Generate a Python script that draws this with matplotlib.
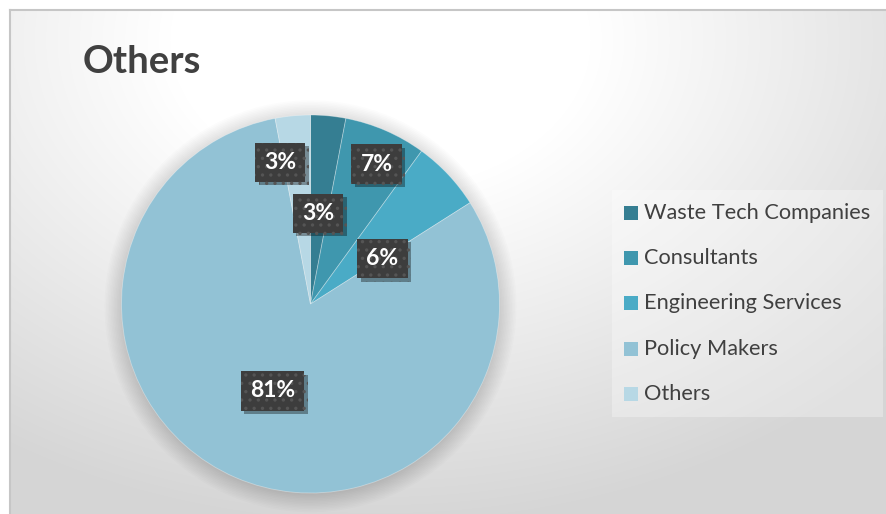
import numpy as np
import matplotlib
matplotlib.use("Agg")
import matplotlib.pyplot as plt
import matplotlib.patheffects as pe
from matplotlib.patches import Rectangle, Circle

# ---------- data ----------
labels = ["Waste Tech Companies", "Consultants", "Engineering Services",
          "Policy Makers", "Others"]
shares = [3, 7, 6, 81, 3]
title = "Others"

# ---------- style ----------
colors = ["#357e92", "#3f97ae", "#4aabc6", "#92c2d5", "#b7d8e5"]
text_dark = "#404040"
# label anchor points, in pie radius units from the centre
label_xy = [(0.04, 0.48), (0.35, 0.74), (0.38, 0.24), (-0.20, -0.46), (-0.16, 0.75)]

W, H, DPI = 886, 514, 100
fig = plt.figure(figsize=(W / DPI, H / DPI), dpi=DPI)

# background layer in pixel coordinates
bg = fig.add_axes([0, 0, 1, 1])
bg.set_xlim(0, W)
bg.set_ylim(H, 0)
bg.axis("off")

yy, xx = np.mgrid[0:H, 0:W]
d = np.sqrt(((xx - 380) / 700.0) ** 2 + ((yy - 40) / 500.0) ** 2)
shade = np.clip(255 - 62 * np.clip(d - 0.3, 0, None), 213, 255) / 255.0
img = np.dstack([shade, shade, shade])
img[:10, :, :] = 1.0
img[:, :10, :] = 1.0
bg.imshow(img, extent=(0, W, H, 0), interpolation="bilinear", zorder=0)
bg.plot([10, W], [10, 10], color="#c6c6c6", lw=1.5, zorder=1)
bg.plot([10, 10], [10, H], color="#c6c6c6", lw=1.5, zorder=1)

bg.text(83, 62, title, fontsize=27.5, fontweight="bold", color=text_dark,
        family="Lato", va="center", ha="left")

# legend block
bg.add_patch(Rectangle((612, 190), 271, 227, facecolor="white", alpha=0.3,
                       edgecolor="none", zorder=1))
for i, (lab, col) in enumerate(zip(labels, colors)):
    y = 213 + i * 45.2
    bg.add_patch(Rectangle((624, y - 7), 14, 14, facecolor=col,
                           edgecolor="none", zorder=2))
    bg.text(644, y, lab, fontsize=15.7, color=text_dark, family="Lato",
            va="center", ha="left", zorder=2)

# pie
cx, cy, R = 310.5, 304, 189
k = 1.2
ax = fig.add_axes([(cx - R * k) / W, (H - cy - R * k) / H,
                   2 * R * k / W, 2 * R * k / H])

# soft outer shadow
for r in np.linspace(1.09, 1.0, 12):
    ax.add_patch(Circle((0, -0.012), r, facecolor="black", alpha=0.012,
                        edgecolor="none", zorder=0))

wedges, _ = ax.pie(shares, colors=colors, startangle=90, counterclock=False,
                   radius=1.0, wedgeprops=dict(edgecolor=(1, 1, 1, 0.35),
                                               linewidth=0.6))
for w in wedges:
    w.set_zorder(1)
ax.set_xlim(-k, k)
ax.set_ylim(-k, k)
ax.axis("off")

plt.rcParams["hatch.linewidth"] = 1.2
for v, (x, y) in zip(shares, label_xy):
    t = ax.text(x, y, f"{v}%", fontsize=16.5, fontweight="bold", color="white",
                family="Lato", ha="center", va="center", zorder=5,
                bbox=dict(boxstyle="square,pad=0.4", facecolor="#3d3d3d",
                          edgecolor="#555555", linewidth=0, hatch=".."))
    t.get_bbox_patch().set_path_effects([
        pe.SimplePatchShadow(offset=(2.5, -2.5), shadow_rgbFace="black",
                             alpha=0.35),
        pe.Normal()])

fig.savefig("out.png", dpi=DPI)
